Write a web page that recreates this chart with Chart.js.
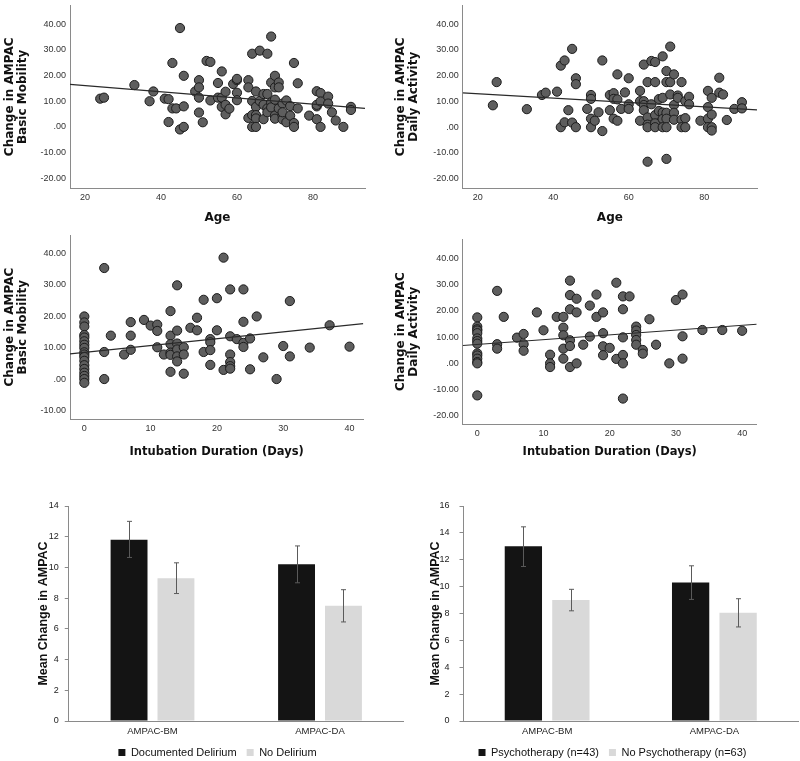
<!DOCTYPE html>
<html>
<head>
<meta charset="utf-8">
<script src="https://cdn.jsdelivr.net/npm/chart.js@4.4.1/dist/chart.umd.min.js"></script>
<style>
  html, body { margin: 0; padding: 0; background: #fff; }
  #wrap { position: relative; width: 800px; height: 761px; overflow: hidden; background: #fff; }
  canvas { position: absolute; }
</style>
</head>
<body>
<div id="wrap">
  <canvas id="ageBM" width="400" height="229" style="left:0;top:0"></canvas>
  <canvas id="ageDA" width="415" height="229" style="left:385px;top:0"></canvas>
  <canvas id="intBM" width="400" height="238" style="left:0;top:225px"></canvas>
  <canvas id="intDA" width="415" height="238" style="left:385px;top:225px"></canvas>
  <canvas id="delir" width="434" height="305" style="left:0;top:463px"></canvas>
  <canvas id="psych" width="400" height="305" style="left:400px;top:463px"></canvas>
</div>
<script>
// ---- scatter data ----
const ageBM_x = [24,25,33,37,38,41,42,42,43,43,44,45,45,46,46,46,49,50,50,50,50,51,52,53,53,55,55,56,56,56,57,57,57,58,59,60,60,60,60,63,63,63,64,64,64,64,65,65,65,65,65,66,66,67,67,67,68,68,68,68,69,69,69,69,70,70,70,70,70,71,71,71,72,72,72,72,73,73,74,74,75,75,75,76,76,79,81,81,81,81,82,82,82,84,84,85,86,88,90,90];
const ageBM_y = [11.0,11.4,16.3,10.0,13.8,11.0,10.8,1.9,24.9,7.2,7.2,38.5,-1.0,19.9,8.0,0,13.8,18.2,15.4,11.4,5.6,1.8,25.7,25.3,10.3,17.1,11.4,21.6,11.4,7.8,13.7,8.6,4.9,7.1,16.7,18.2,18.7,13.3,10.4,18.2,15.4,3.5,28.5,10.1,4.6,0,13.8,7.8,4.6,3.3,0,29.7,10.1,12.8,8.6,3.0,28.5,12.8,7.2,5.7,35.2,17.3,9.5,7.6,19.9,15.4,10.6,4.4,3.2,17.3,15.4,7.2,9.1,4.4,2.9,5.7,10.3,1.8,8.1,4.4,24.9,1.5,0,17.0,7.2,4.4,13.9,8.0,3.0,8.6,13.2,9.9,0,11.8,9.1,5.7,2.5,0,7.8,6.6];

const ageDA_x = [24,25,33,37,38,41,42,42,43,43,44,45,45,46,46,46,49,50,50,50,50,51,52,53,53,55,55,56,56,56,57,57,57,58,59,60,60,60,63,63,63,64,64,64,64,65,65,65,65,65,66,66,67,67,67,67,67,68,68,69,69,69,69,69,70,70,70,70,70,70,71,71,71,72,72,72,72,73,73,74,74,74,75,75,75,76,76,79,81,81,81,81,82,82,82,82,84,84,85,86,88,90,90];
const ageDA_y = [8.5,17.5,7.0,12.5,13.4,13.8,23.9,0,25.9,1.9,6.6,30.4,1.8,19.0,16.7,0,7.1,12.5,11.0,3.3,0,2.5,5.8,25.9,-1.5,12.5,6.6,13.2,11.0,3.3,20.5,10.8,2.5,7.1,13.5,19.0,8.9,7.1,14.1,10.1,2.5,24.3,10.1,8.6,6.6,-13.4,17.5,3.8,1.0,0,25.7,8.9,25.3,17.5,4.7,1.5,0,10.9,6.3,27.5,11.4,5.7,3.2,0,-12.3,21.8,17.5,5.6,3.3,0,31.3,17.5,12.7,20.5,8.6,5.6,2.9,12.3,11.4,17.5,2.9,0,10.1,3.5,0,11.8,8.9,2.5,14.1,7.8,3.3,0,11.4,4.9,0,-1.3,19.2,13.4,12.7,2.8,7.1,9.7,7.3];

const intBM_x = [0,0,0,0,0,0,0,0,0,0,0,0,0,0,0,0,0,0,3,3,3,4,6,7,7,7,9,10,11,11,11,12,13,13,13,13,13,13,14,14,14,14,14,14,15,15,15,16,17,17,18,18,19,19,19,19,20,20,21,21,22,22,22,22,22,22,23,24,24,24,24,25,25,26,27,29,30,31,31,34,37,40];
const intBM_y = [19.9,18.0,16.7,14.0,13.2,12.0,10.9,9.9,8.5,7.8,7.0,5.8,4.4,3.2,2.0,1.0,0,-1.2,35.3,8.6,0,13.8,7.8,18.1,13.8,9.3,18.8,17.0,17.3,15.3,10.1,7.8,21.6,13.8,11.1,8.4,7.7,2.3,29.8,15.4,11.3,9.4,7.2,5.6,10.1,7.8,1.7,16.3,19.5,15.5,25.2,8.6,12.7,11.7,9.2,4.5,25.7,15.5,38.6,2.9,28.5,13.6,7.8,5.4,4.1,3.3,12.7,28.5,18.2,11.5,10.2,12.9,3.1,19.9,6.9,0,10.5,24.8,7.2,10.0,17.1,10.3];

const intDA_x = [0,0,0,0,0,0,0,0,0,0,0,0,0,0,3,3,3,4,6,7,7,7,9,10,11,11,11,12,13,13,13,13,13,14,14,14,14,14,14,15,15,15,16,17,17,18,18,19,19,19,19,20,21,21,22,22,22,22,22,22,23,24,24,24,24,24,25,25,26,27,29,30,31,31,31,34,37,40];
const intDA_y = [17.5,14.0,13.0,12.5,11.5,9.5,8.5,7.5,3.8,3.0,1.8,0.5,0,-12.2,27.6,7.3,5.6,17.7,9.8,11.2,7.3,4.8,19.4,12.6,3.3,0,-1.4,17.7,17.7,13.6,10.7,5.6,1.8,31.5,26.0,20.6,8.8,6.6,-1.4,24.6,19.4,0,7.1,22.0,10.2,26.2,17.7,19.4,11.5,6.5,3.1,5.9,30.7,1.7,25.5,20.6,9.9,3.2,0,-13.4,25.5,14.0,12.5,10.8,8.9,7.1,5.1,3.7,16.8,7.1,0,24.1,26.2,10.3,1.8,12.7,12.7,12.4];

// fit line end points
const fitAgeBM_x = [16.05, 93.7], fitAgeBM_y = [16.6, 7.2];
const fitAgeDA_x = [16.0, 94.0],  fitAgeDA_y = [13.3, 6.7];
const fitIntBM_x = [-2.16, 42.08], fitIntBM_y = [8.0, 17.6];
const fitIntDA_x = [-2.2, 42.2],  fitIntDA_y = [6.8, 14.9];

// tick values
const changeTicks = [-20, -10, 0, 10, 20, 30, 40];
const changeTicksShort = [-10, 0, 10, 20, 30, 40];
const ageTicks = [20, 40, 60, 80];
const dayTicks = [0, 10, 20, 30, 40];

// ---- bar data ----
const measures = ['AMPAC-BM', 'AMPAC-DA'];
const delirium = [11.8, 10.2], deliriumLo = [10.65, 9.0], deliriumHi = [13.0, 11.4];
const noDelirium = [9.3, 7.5], noDeliriumLo = [8.3, 6.45], noDeliriumHi = [10.3, 8.55];
const psych = [13.0, 10.3], psychLo = [11.5, 9.05], psychHi = [14.45, 11.55];
const noPsych = [9.0, 8.05], noPsychLo = [8.2, 7.0], noPsychHi = [9.8, 9.1];
const barTicks14 = [0, 2, 4, 6, 8, 10, 12, 14];
const barTicks16 = [0, 2, 4, 6, 8, 10, 12, 14, 16];

Chart.defaults.font.family = 'Liberation Sans';

function pts(xs, ys) {
  return xs.map((x, i) => ({x: x, y: ys[i]}));
}

function scatterChart(id, p) {
  return new Chart(document.getElementById(id), {
    type: 'scatter',
    data: {
      datasets: [
        { data: pts(p.fitX, p.fitY), showLine: true, borderColor: '#2a2a2a', borderWidth: 1.2, pointRadius: 0 },
        { data: pts(p.xs, p.ys), backgroundColor: '#5e5e5e', borderColor: '#1c1c1c', borderWidth: 1, pointRadius: 4.6 }
      ]
    },
    options: {
      responsive: false,
      animation: false,
      layout: { padding: p.pad },
      plugins: { legend: { display: false }, tooltip: { enabled: false } },
      scales: {
        x: {
          type: 'linear', min: p.xMin, max: p.xMax,
          grid: { display: false, drawTicks: false },
          border: { color: '#8a8a8a' },
          afterBuildTicks: s => { s.ticks = p.xTicks.map(v => ({value: v})); },
          afterFit: s => { s.height = p.xH; s.paddingLeft = 0; s.paddingRight = 0; },
          ticks: { padding: 4, color: '#333', font: { size: 9 }, callback: v => String(v) },
          title: { display: true, text: p.xTitle, color: '#111', padding: { top: 4, bottom: 4 },
                   font: { family: 'DejaVu Sans', size: p.xTitleSize, weight: 'bold' } }
        },
        y: {
          min: p.yMin, max: p.yMax,
          grid: { display: false, drawTicks: false },
          border: { color: '#8a8a8a' },
          afterBuildTicks: s => { s.ticks = p.yTicks.map(v => ({value: v})); },
          afterFit: s => { s.width = p.yW; s.paddingTop = 0; s.paddingBottom = 0; },
          ticks: { padding: 4, color: '#333', font: { size: 9 },
                   callback: v => v === 0 ? '.00' : v.toFixed(2) },
          title: { display: true, text: p.yTitle, color: '#111', padding: { top: p.yTitlePad, bottom: 0 },
                   font: { family: 'DejaVu Sans', size: 12, weight: 'bold', lineHeight: 1.05 } }
        }
      }
    }
  });
}

scatterChart('ageBM', {
  xs: ageBM_x, ys: ageBM_y, fitX: fitAgeBM_x, fitY: fitAgeBM_y,
  xMin: 16.05, xMax: 93.7, yMin: -23.8, yMax: 47.25, xTicks: ageTicks, yTicks: changeTicks,
  pad: { top: 2, right: 35, left: 0, bottom: 0 }, xH: 41, yW: 70,
  xTitle: 'Age', xTitleSize: 12, yTitle: ['Change in AMPAC', 'Basic Mobility'], yTitlePad: 4
});

scatterChart('ageDA', {
  xs: ageDA_x, ys: ageDA_y, fitX: fitAgeDA_x, fitY: fitAgeDA_y,
  xMin: 16.0, xMax: 94.0, yMin: -23.6, yMax: 47.2, xTicks: ageTicks, yTicks: changeTicks,
  pad: { top: 2, right: 43, left: 0, bottom: 0 }, xH: 41, yW: 77.7,
  xTitle: 'Age', xTitleSize: 12, yTitle: ['Change in AMPAC', 'Daily Activity'], yTitlePad: 9.7
});

scatterChart('intBM', {
  xs: intBM_x, ys: intBM_y, fitX: fitIntBM_x, fitY: fitIntBM_y,
  xMin: -2.16, xMax: 42.08, yMin: -12.8, yMax: 45.8, xTicks: dayTicks, yTicks: changeTicksShort,
  pad: { top: 10, right: 36.7, left: 0, bottom: 0 }, xH: 43.7, yW: 70,
  xTitle: 'Intubation Duration (Days)', xTitleSize: 11.5, yTitle: ['Change in AMPAC', 'Basic Mobility'], yTitlePad: 4
});

scatterChart('intDA', {
  xs: intDA_x, ys: intDA_y, fitX: fitIntDA_x, fitY: fitIntDA_y,
  xMin: -2.2, xMax: 42.2, yMin: -23.2, yMax: 47.35, xTicks: dayTicks, yTicks: changeTicks,
  pad: { top: 14, right: 43.3, left: 0, bottom: 0 }, xH: 38.7, yW: 77.7,
  xTitle: 'Intubation Duration (Days)', xTitleSize: 11.5, yTitle: ['Change in AMPAC', 'Daily Activity'], yTitlePad: 9.7
});

// error bars drawn from each dataset's errLo / errHi through the y scale
const errorBars = {
  id: 'errorBars',
  afterDatasetsDraw(chart) {
    const ctx = chart.ctx, y = chart.scales.y;
    chart.data.datasets.forEach((ds, i) => {
      chart.getDatasetMeta(i).data.forEach((bar, j) => {
        const x = Math.round(bar.x) + 0.5;
        const top = y.getPixelForValue(ds.errHi[j]);
        const bot = y.getPixelForValue(ds.errLo[j]);
        ctx.save();
        ctx.strokeStyle = '#5a5a5a';
        ctx.lineWidth = 1;
        ctx.beginPath();
        ctx.moveTo(x, top); ctx.lineTo(x, bot);
        ctx.moveTo(x - 2.5, top); ctx.lineTo(x + 2.5, top);
        ctx.moveTo(x - 2.5, bot); ctx.lineTo(x + 2.5, bot);
        ctx.stroke();
        ctx.restore();
      });
    });
  }
};

function barChart(id, p) {
  return new Chart(document.getElementById(id), {
    type: 'bar',
    data: {
      labels: measures,
      datasets: [
        { label: p.names[0], data: p.a, errLo: p.aLo, errHi: p.aHi, backgroundColor: '#141414',
          categoryPercentage: p.cat, barPercentage: p.bar },
        { label: p.names[1], data: p.b, errLo: p.bLo, errHi: p.bHi, backgroundColor: '#d9d9d9',
          categoryPercentage: p.cat, barPercentage: p.bar }
      ]
    },
    options: {
      responsive: false,
      animation: false,
      layout: { padding: p.pad },
      plugins: {
        tooltip: { enabled: false },
        legend: {
          position: 'bottom',
          labels: { boxWidth: 7, boxHeight: 7, padding: 10, color: '#111', font: { size: 11 } }
        }
      },
      scales: {
        x: {
          grid: { display: false, drawTicks: false },
          border: { color: '#8a8a8a' },
          afterFit: s => { s.height = 16; s.paddingLeft = 0; s.paddingRight = 0; },
          ticks: { padding: 4.3, color: '#222', font: { size: 9.5 } }
        },
        y: {
          min: 0, max: p.max,
          grid: { drawOnChartArea: false, drawTicks: true, tickLength: 4, color: '#8a8a8a' },
          border: { color: '#8a8a8a' },
          afterBuildTicks: s => { s.ticks = p.ticks.map(v => ({value: v})); },
          afterFit: s => { s.width = p.yW; s.paddingTop = 0; s.paddingBottom = 0; },
          ticks: { padding: p.tickPad, color: '#222', font: { size: 9 } },
          title: { display: true, text: 'Mean Change in AMPAC', color: '#111',
                   padding: { top: p.titlePad, bottom: 0 },
                   font: { size: 12.5, weight: 'bold' } }
        }
      }
    },
    plugins: [errorBars]
  });
}

barChart('delir', {
  names: ['Documented Delirium', 'No Delirium'],
  a: delirium, aLo: deliriumLo, aHi: deliriumHi,
  b: noDelirium, bLo: noDeliriumLo, bHi: noDeliriumHi,
  max: 14, ticks: barTicks14, cat: 0.56, bar: 0.787,
  pad: { top: 43, left: 31.25, right: 30.25, bottom: 0 }, yW: 37.5, tickPad: 6, titlePad: 4.5
});

barChart('psych', {
  names: ['Psychotherapy (n=43)', 'No Psychotherapy (n=63)'],
  a: psych, aLo: psychLo, aHi: psychHi,
  b: noPsych, bLo: noPsychLo, bHi: noPsychHi,
  max: 16, ticks: barTicks16, cat: 0.568, bar: 0.785,
  pad: { top: 43, left: 27, right: 2, bottom: 0 }, yW: 36.5, tickPad: 10, titlePad: 1.5
});
</script>
</body>
</html>
